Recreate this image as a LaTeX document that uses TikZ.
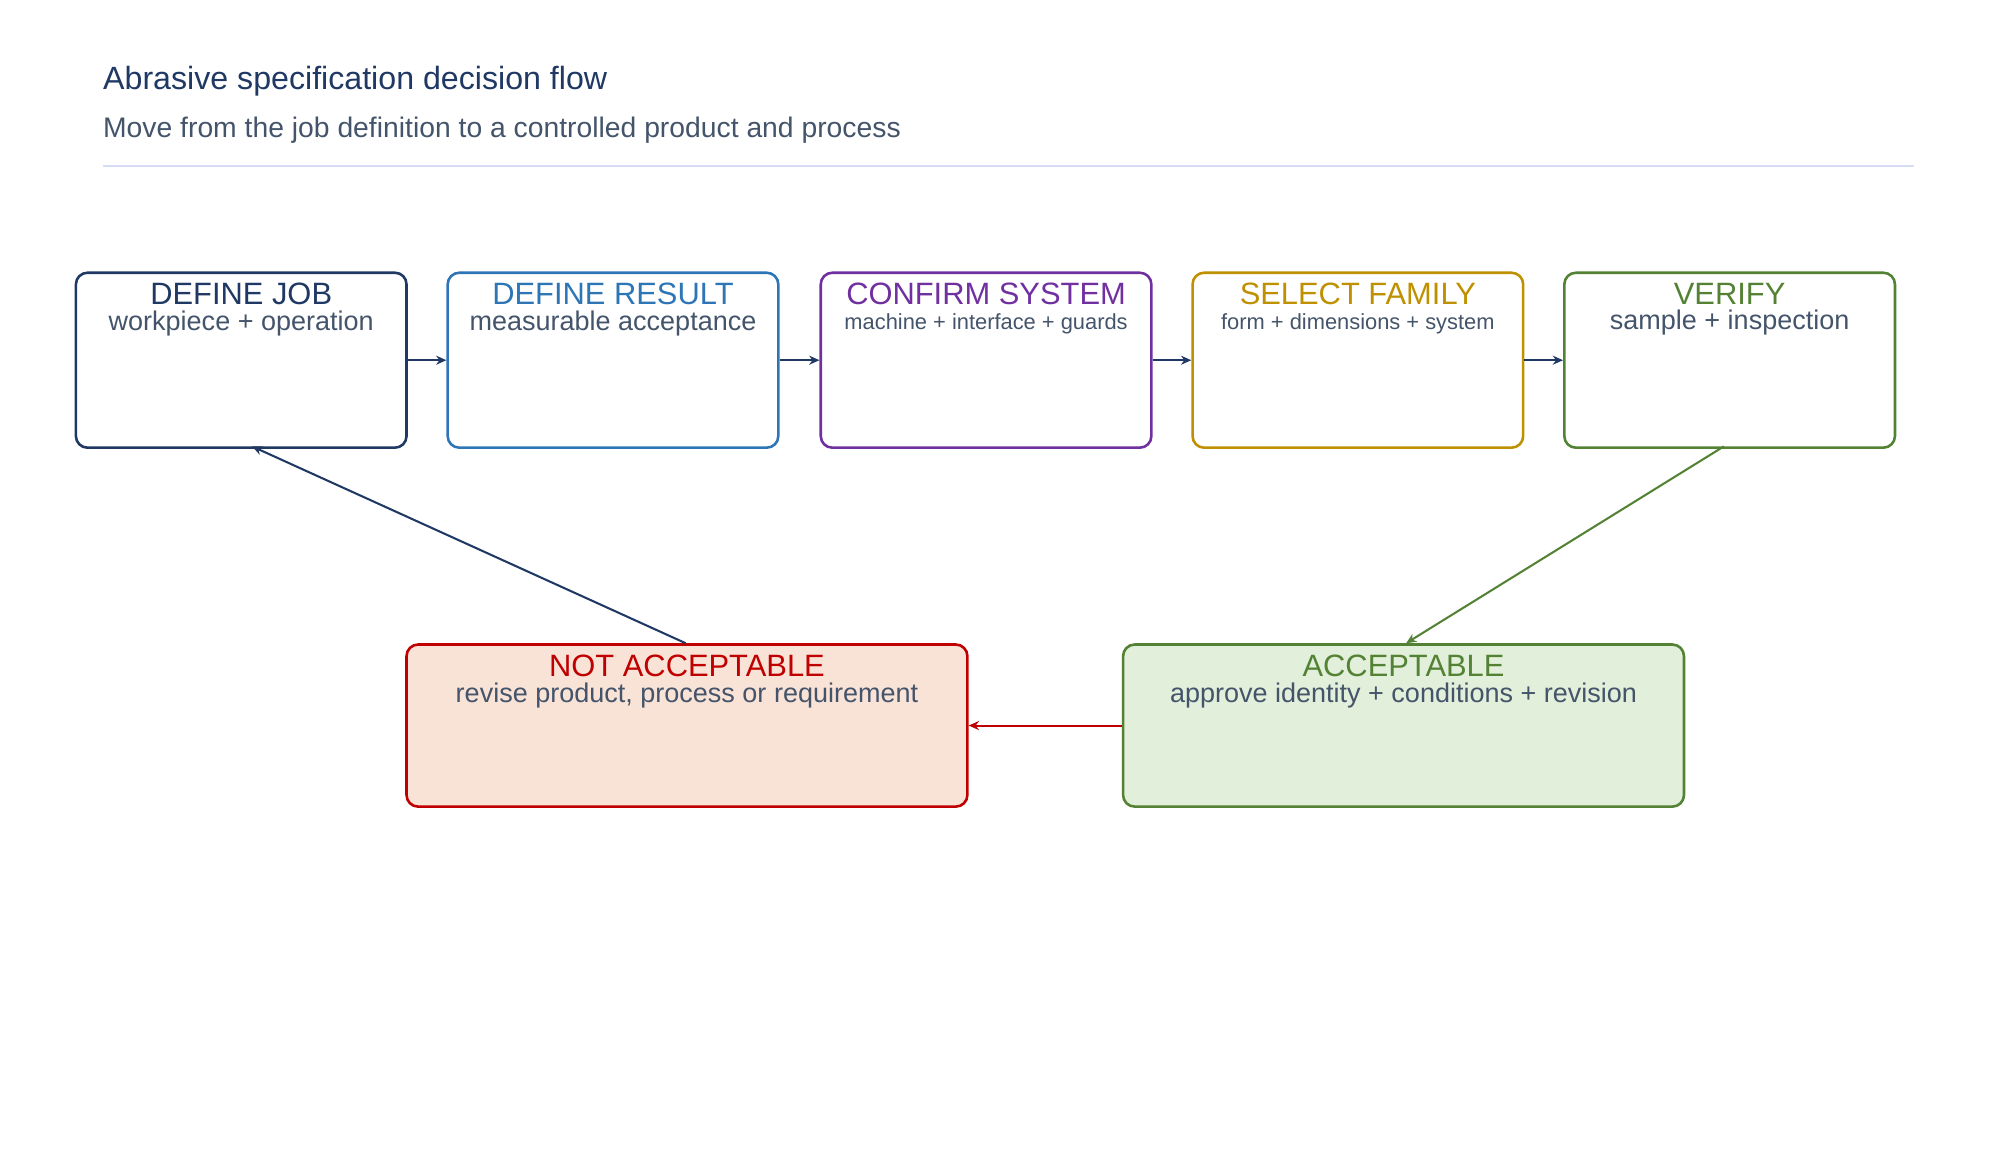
\documentclass[tikz,border=0pt]{standalone}
\usepackage{fontspec}
\setmainfont{Liberation Sans}
\usetikzlibrary{positioning,arrows.meta}
\definecolor{navy}{HTML}{1F3864}
\definecolor{blu}{HTML}{2E75B6}
\definecolor{purp}{HTML}{7030A0}
\definecolor{gold}{HTML}{BF9000}
\definecolor{grn}{HTML}{548235}
\definecolor{rd}{HTML}{C00000}
\definecolor{txt}{HTML}{44546A}
\definecolor{rule}{HTML}{D6DCF5}
\tikzset{
  box/.style={draw=#1, line width=2pt, rounded corners=9pt, anchor=north west, inner sep=0pt},
  step/.style={box=#1, minimum width=257pt, minimum height=136pt},
  verdict/.style={box=#1, minimum width=436pt, minimum height=126pt},
  head/.style={text=#1, font=\fontsize{24}{26}\selectfont, inner sep=1pt},
  sub/.style={text=txt, font=\fontsize{21}{24}\selectfont, inner sep=1pt},
  small/.style={text=txt, font=\fontsize{17}{20}\selectfont, inner sep=3pt},
  flow/.style={-{Stealth[length=8pt,width=7pt]}, line width=1.6pt, draw=#1}
}
\begin{document}
\begin{tikzpicture}[x=1pt,y=-1pt]
  \useasboundingbox (0,0) rectangle (1550,902);
  % heading
  \node[anchor=west, text=navy, font=\fontsize{25}{28}\selectfont, inner sep=0pt] (title) at (80,63) {Abrasive specification decision flow};
  \node[anchor=west, text=txt, font=\fontsize{22}{26}\selectfont, inner sep=0pt] (subtitle) at (80,101) {Move from the job definition to a controlled product and process};
  \draw[rule, line width=1.5pt] (80,129) -- (1488,129);

  % process steps
  \node[step=navy] (job) at (58,211) {};
  \node[step=blu] (result) at (347,211) {};
  \node[step=purp] (system) at (637,211) {};
  \node[step=gold] (family) at (926,211) {};
  \node[step=grn] (verify) at (1215,211) {};

  \node[head=navy, below=8pt of job.north] (jobT) {DEFINE JOB};
  \node[sub, below=2pt of jobT] {workpiece + operation};
  \node[head=blu, below=8pt of result.north] (resultT) {DEFINE RESULT};
  \node[sub, below=2pt of resultT] {measurable acceptance};
  \node[head=purp, below=8pt of system.north] (systemT) {CONFIRM SYSTEM};
  \node[small, below=2pt of systemT] {machine + interface + guards};
  \node[head=gold, below=8pt of family.north] (familyT) {SELECT FAMILY};
  \node[small, below=2pt of familyT] {form + dimensions + system};
  \node[head=grn, below=8pt of verify.north] (verifyT) {VERIFY};
  \node[sub, below=2pt of verifyT] {sample + inspection};

  % outcomes
  \node[verdict=rd, fill=rd!12!white, fill={rgb,255:red,249;green,226;blue,214}] (reject) at (315,500) {};
  \node[verdict=grn, fill={rgb,255:red,226;green,239;blue,218}] (accept) at (872,500) {};
  \node[head=rd, below=8pt of reject.north] (rejectT) {NOT ACCEPTABLE};
  \node[sub, below=2pt of rejectT] {revise product, process or requirement};
  \node[head=grn, below=8pt of accept.north] (acceptT) {ACCEPTABLE};
  \node[sub, below=2pt of acceptT] {approve identity + conditions + revision};

  % connectors
  \draw[flow=navy] (job) -- (result);
  \draw[flow=navy] (result) -- (system);
  \draw[flow=navy] (system) -- (family);
  \draw[flow=navy] (family) -- (verify);
  \coordinate (vOut) at (1340,347);
  \coordinate (aIn) at (1093,500);
  \draw[flow=grn] (vOut) -- (aIn);
  \draw[flow=rd] (accept) -- (reject);
  \coordinate (rOut) at (533,500);
  \coordinate (jIn) at (196,347);
  \draw[flow=navy] (rOut) -- (jIn);
\end{tikzpicture}
\end{document}
